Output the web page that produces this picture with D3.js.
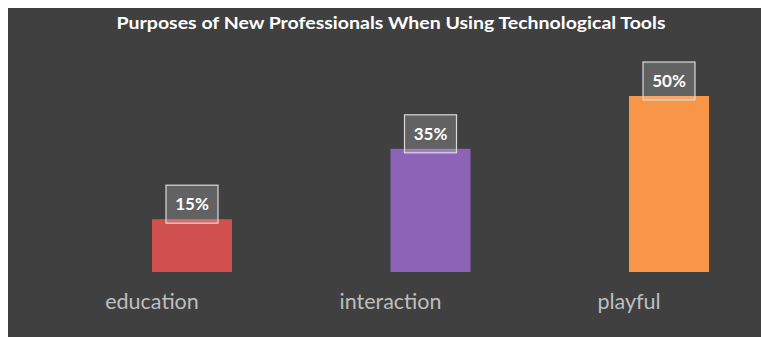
<!DOCTYPE html>
<html><head><meta charset="utf-8">
<script src="https://cdn.jsdelivr.net/npm/d3@7"></script>
<style>
html,body{margin:0;padding:0;background:#fff;}
svg{display:block;}
</style></head>
<body>
<script>
const title = "Purposes of New Professionals When Using Technological Tools";
const categories = ["education", "interaction", "playful"];
const values = [15, 35, 50];
const labels = ["15%", "35%", "50%"];
const colors = ["#d0504f", "#8d63b8", "#f79646"];

const W = 761, H = 337;
const svg = d3.select("body").append("svg").attr("width", W).attr("height", H);
svg.append("rect").attr("x", 8).attr("y", 8).attr("width", W - 8).attr("height", H - 8).attr("fill", "#404040");

const font = "Lato, 'Open Sans', sans-serif";
svg.append("text").attr("x", 391).attr("y", 29).attr("text-anchor", "middle")
  .attr("fill", "#ffffff").attr("font-family", font).attr("font-size", 17.5).attr("font-weight", 700)
  .attr("textLength", 549).attr("lengthAdjust", "spacingAndGlyphs")
  .text(title);

const x = d3.scalePoint().domain(categories).range([152, 629]);
const y = d3.scaleLinear().domain([0, 50]).range([272, 96]);
const bw = 80;

const g = svg.append("g");
g.selectAll("rect.bar").data(categories).join("rect").attr("class", "bar")
  .attr("x", d => x(d)).attr("width", bw)
  .attr("y", (d, i) => y(values[i])).attr("height", (d, i) => y(0) - y(values[i]))
  .attr("fill", (d, i) => colors[i]);

// category labels
g.selectAll("text.cat").data(categories).join("text").attr("class", "cat")
  .attr("x", d => x(d)).attr("y", 309).attr("text-anchor", "middle")
  .attr("fill", "#bfbfbf").attr("font-family", font).attr("font-size", 21.5)
  .text(d => d);

// data labels
const lw = 52, lh = 38;
const lab = g.selectAll("g.lab").data(categories).join("g").attr("class", "lab")
  .attr("transform", (d, i) => `translate(${x(d) + bw / 2},${y(values[i])})`);
lab.append("rect").attr("x", -lw / 2).attr("y", -34).attr("width", lw).attr("height", lh)
  .attr("fill", "rgba(255,255,255,0.18)").attr("stroke", "#d9d9d9").attr("stroke-width", 1.2);
lab.append("text").attr("x", 0).attr("y", -9).attr("text-anchor", "middle")
  .attr("fill", "#ffffff").attr("font-family", font).attr("font-size", 17).attr("font-weight", 700)
  .text((d, i) => labels[i]);
</script>
</body></html>
